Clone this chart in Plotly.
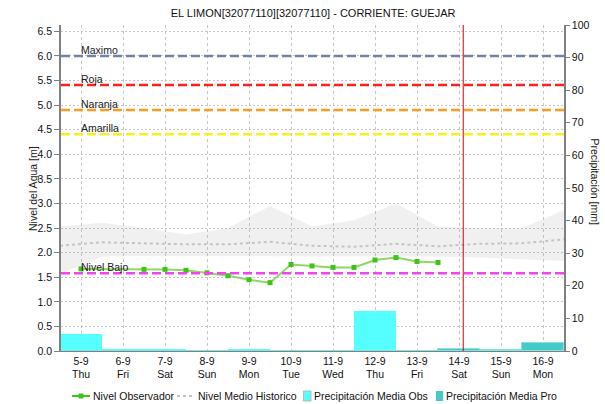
import pandas as pd
import plotly.graph_objects as go

# ---------------------------------------------------------------- data
title_text = "EL LIMON[32077110][32077110] - CORRIENTE: GUEJAR"

day_dates = pd.date_range("2019-09-05", periods=12, freq="D")
day_labels = ["5-9", "6-9", "7-9", "8-9", "9-9", "10-9",
              "11-9", "12-9", "13-9", "14-9", "15-9", "16-9"]
weekday_labels = ["Thu", "Fri", "Sat", "Sun", "Mon", "Tue",
                  "Wed", "Thu", "Fri", "Sat", "Sun", "Mon"]

# observed water level [m]
obs_times = ["2019-09-05 00:00", "2019-09-06 12:00", "2019-09-07 00:00",
             "2019-09-07 12:00", "2019-09-08 00:00", "2019-09-08 12:00",
             "2019-09-09 00:00", "2019-09-09 12:00", "2019-09-10 00:00",
             "2019-09-10 12:00", "2019-09-11 00:00", "2019-09-11 12:00",
             "2019-09-12 00:00", "2019-09-12 12:00", "2019-09-13 00:00",
             "2019-09-13 12:00"]
obs_level = [1.67, 1.66, 1.66, 1.64, 1.59, 1.53, 1.45, 1.39,
             1.76, 1.73, 1.70, 1.70, 1.85, 1.90, 1.82, 1.80]

# historical level: mean and envelope [m]
hist_times = pd.date_range("2019-09-04 12:00", periods=13, freq="D")
hist_mean = [2.14, 2.21, 2.19, 2.17, 2.17, 2.22, 2.14,
             2.12, 2.18, 2.13, 2.18, 2.19, 2.27]
hist_upper = [2.53, 2.61, 2.50, 2.37, 2.50, 2.95, 2.53,
              2.66, 3.00, 2.53, 2.50, 2.50, 2.87]
hist_lower = [1.56, 1.92, 1.93, 1.93, 1.92, 1.93, 1.92,
              1.92, 1.92, 1.92, 1.90, 1.86, 1.83]

# daily precipitation [mm]
precip_obs = [5.1, 0.5, 0.5, 0.2, 0.4, 0.3, 0.3, 12.4, 0.3, 0.0, 0.0, 0.0]
precip_pro = [0.0, 0.0, 0.0, 0.0, 0.0, 0.0, 0.0, 0.0, 0.0, 0.6, 0.3, 2.4]

# alert thresholds [m]
threshold_names = ["Maximo", "Roja", "Naranja", "Amarilla", "Nivel Bajo"]
threshold_values = [6.0, 5.41, 4.90, 4.41, 1.58]
threshold_colors = ["#7282a8", "#ff1f1f", "#ff9a22", "#f4f41a", "#f044f0"]

now_time = "2019-09-14 02:25"

# ---------------------------------------------------------------- style
FONT = "Liberation Sans, Arial, sans-serif"
C_OBS_LINE = "#8ed866"
C_OBS_MARK = "#3fc21a"
C_MEAN = "#c4c4c4"
C_BAND = "rgba(170,170,170,0.18)"
C_PREC_OBS = "#55ffff"
C_PREC_PRO = "#45c9c9"
GRID = "#c6c6c6"
AXIS = "#808080"

x_range = ["2019-09-04 12:34", "2019-09-16 12:00"]
day_ms = 86400000

fig = go.Figure()

# historical envelope
fig.add_trace(go.Scatter(x=hist_times, y=hist_upper, mode="lines",
                         line=dict(width=0), hoverinfo="skip",
                         showlegend=False))
fig.add_trace(go.Scatter(x=hist_times, y=hist_lower, mode="lines",
                         line=dict(width=0), fill="tonexty",
                         fillcolor=C_BAND, hoverinfo="skip",
                         showlegend=False))
# historical mean
fig.add_trace(go.Scatter(x=hist_times, y=hist_mean, mode="lines",
                         line=dict(color=C_MEAN, width=2, dash="3px,3px"),
                         name="Nivel Medio Historico", showlegend=False))

# precipitation bars (right axis)
fig.add_trace(go.Bar(x=day_dates, y=precip_obs, width=day_ms,
                     marker=dict(color=C_PREC_OBS, line=dict(width=0)),
                     yaxis="y2", name="Precipitación Media Obs",
                     showlegend=False))
fig.add_trace(go.Bar(x=day_dates, y=precip_pro, width=day_ms,
                     marker=dict(color=C_PREC_PRO,
                                 line=dict(width=1, color="#7fe6e6")),
                     yaxis="y2", name="Precipitación Media Pro",
                     showlegend=False))

# observed level
fig.add_trace(go.Scatter(x=obs_times, y=obs_level, mode="lines+markers",
                         line=dict(color=C_OBS_LINE, width=2),
                         marker=dict(symbol="square", size=5,
                                     color=C_OBS_MARK),
                         name="Nivel Observador", showlegend=False))

shapes = []
annotations = []

# threshold lines with their labels
for name, val, col in zip(threshold_names, threshold_values, threshold_colors):
    shapes.append(dict(type="line", xref="paper", x0=0, x1=1, yref="y",
                       y0=val, y1=val, layer="above",
                       line=dict(color=col, width=2.5, dash="9px,4px")))
    annotations.append(dict(x=day_dates[0], y=val, xref="x", yref="y",
                            text=name, showarrow=False, xanchor="left",
                            yanchor="middle", yshift=6, xshift=-2,
                            font=dict(family=FONT, size=10.5,
                                      color="#1a1a1a")))

# current time marker
shapes.append(dict(type="line", xref="x", x0=now_time, x1=now_time,
                   yref="paper", y0=0, y1=1, layer="above",
                   line=dict(color="#d40000", width=1)))

# axis titles
annotations.append(dict(x=-0.0557, y=0.5, xref="paper", yref="paper",
                        xanchor="center", yanchor="middle",
                        text="Nivel del Agua [m]", textangle=-90,
                        showarrow=False,
                        font=dict(family=FONT, size=10.5, color="#222")))
annotations.append(dict(x=1.0616, y=0.52, xref="paper", yref="paper",
                        xanchor="center", yanchor="middle",
                        text="Precipitación [mm]", textangle=90,
                        showarrow=False,
                        font=dict(family=FONT, size=10.5, color="#222")))

# legend row
PW, PH, PL, PB = 503.0, 326.0, 61.0, 351.0


def px(xp):
    return (xp - PL) / PW


def py(yp):
    return (PB - yp) / PH


leg_y = py(396)
shapes.append(dict(type="line", xref="paper", yref="paper",
                   x0=px(72), x1=px(90), y0=leg_y, y1=leg_y,
                   line=dict(color=C_OBS_MARK, width=2)))
shapes.append(dict(type="rect", xref="paper", yref="paper",
                   x0=px(78.5), x1=px(83.5), y0=py(398.5), y1=py(393.5),
                   line=dict(width=0), fillcolor=C_OBS_MARK))
shapes.append(dict(type="line", xref="paper", yref="paper",
                   x0=px(177), x1=px(194), y0=leg_y, y1=leg_y,
                   line=dict(color=C_MEAN, width=2, dash="3px,3px")))
shapes.append(dict(type="rect", xref="paper", yref="paper",
                   x0=px(303.5), x1=px(311), y0=py(401), y1=py(391),
                   line=dict(width=1, color="#b8b8b8"),
                   fillcolor=C_PREC_OBS))
shapes.append(dict(type="rect", xref="paper", yref="paper",
                   x0=px(436), x1=px(443), y0=py(401), y1=py(391),
                   line=dict(width=0), fillcolor=C_PREC_PRO))

legend_items = [("Nivel Observador", 91), ("Nivel Medio Historico", 196),
                ("Precipitación Media Obs", 312),
                ("Precipitación Media Pro", 444)]
for txt, xp in legend_items:
    annotations.append(dict(x=px(xp), y=leg_y, xref="paper", yref="paper",
                            text=txt, showarrow=False, xanchor="left",
                            yanchor="middle",
                            font=dict(family=FONT, size=10.5,
                                      color="#111")))

fig.update_layout(
    width=605, height=404,
    margin=dict(l=61, r=41, t=25, b=53, pad=0),
    paper_bgcolor="white", plot_bgcolor="white",
    barmode="overlay", bargap=0,
    showlegend=False,
    font=dict(family=FONT, size=10.5, color="#222"),
    title=dict(text=title_text, x=0.5175, xanchor="center",
               y=1 - 13 / 404, yanchor="middle",
               font=dict(family=FONT, size=11, color="#111")),
    xaxis=dict(type="date", range=x_range,
               tickvals=day_dates,
               ticktext=[f"{d}<br>{w}" for d, w in
                         zip(day_labels, weekday_labels)],
               ticks="", showgrid=True, gridcolor=GRID, gridwidth=1,
               griddash="3px,3px", showline=True, linecolor=AXIS,
               linewidth=1, zeroline=False,
               tickfont=dict(family=FONT, size=10.5, color="#111")),
    yaxis=dict(range=[0, 6.63], tickvals=[i * 0.5 for i in range(14)],
               tickformat=".1f", ticks="outside", ticklen=5,
               tickcolor=AXIS, showgrid=True, gridcolor=GRID,
               gridwidth=1, griddash="2px,2px", showline=True,
               linecolor=AXIS, linewidth=1.5, zeroline=False,
               tickfont=dict(family=FONT, size=10.5, color="#111")),
    yaxis2=dict(range=[0, 100], tickvals=list(range(0, 101, 10)),
                overlaying="y", side="right", ticks="outside", ticklen=4,
                tickcolor=AXIS, showgrid=False, showline=True,
                linecolor=AXIS, linewidth=1.5, zeroline=False,
                tickfont=dict(family=FONT, size=10.5, color="#111")),
    shapes=shapes,
    annotations=annotations,
)

fig.write_html("out.html")
